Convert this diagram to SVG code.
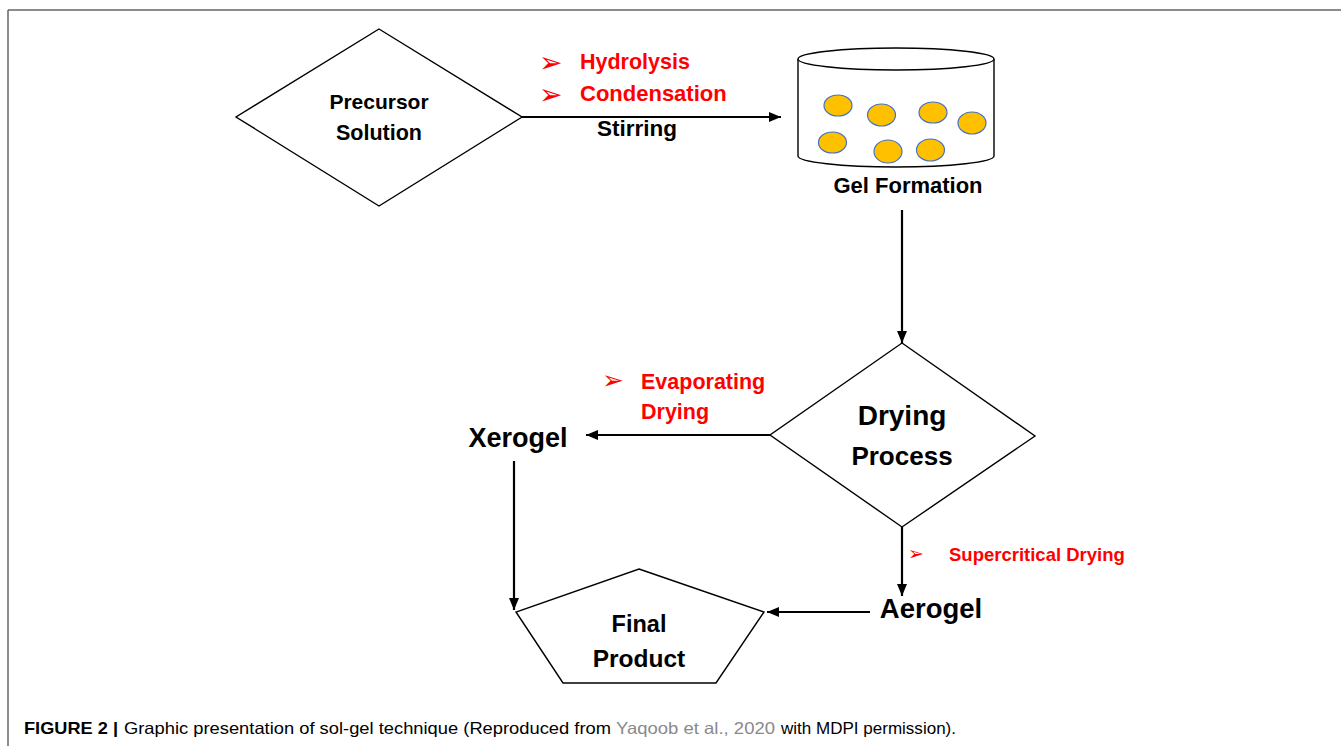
<svg xmlns="http://www.w3.org/2000/svg" width="1341" height="746" viewBox="0 0 1341 746">
<style>
.shape{fill:#fff;stroke:#000;stroke-width:1.4}
.lbl{font-family:"Liberation Sans",Arial,sans-serif;font-weight:bold;fill:#000;text-anchor:middle}
.red{font-family:"Liberation Sans",Arial,sans-serif;font-weight:bold;fill:#ff0000}
.bul{font-family:"DejaVu Sans",sans-serif;fill:#ff0000}
.conn{stroke:#000;stroke-width:2.2;fill:none}
.dot{fill:#ffc000;stroke:#4472c4;stroke-width:1.2}
.cap{font-family:"Liberation Sans",Arial,sans-serif;font-size:16.5px;fill:#000}
</style>
<defs>
<marker id="ah" markerWidth="14" markerHeight="12" refX="12" refY="6" orient="auto" markerUnits="userSpaceOnUse">
<path d="M0,1 L12,6 L0,11 Z" fill="#000"/>
</marker>
</defs>
<rect width="1341" height="746" fill="#fff"/>
<g id="frame" stroke="#666" stroke-width="1.5" fill="none">
<line x1="8" y1="10" x2="1341" y2="10"/>
<line x1="8" y1="10" x2="8" y2="746"/>
</g>

<g id="precursor">
<polygon class="shape" points="379,29 522,117 379,206 236,117"/>
<text class="lbl" x="379" y="109" font-size="21">Precursor</text>
<text class="lbl" x="379" y="140" font-size="21.5">Solution</text>
</g>

<g id="gel">
<path class="shape" d="M798,59 L798,156 A98,11 0 0 0 994,156 L994,59"/>
<ellipse class="shape" cx="896" cy="59" rx="98" ry="11"/>
<ellipse class="dot" cx="838" cy="105.5" rx="14" ry="10.5"/>
<ellipse class="dot" cx="881.5" cy="115" rx="14" ry="11"/>
<ellipse class="dot" cx="933" cy="112.5" rx="14" ry="10.5"/>
<ellipse class="dot" cx="972" cy="123" rx="14" ry="11"/>
<ellipse class="dot" cx="832.5" cy="142.5" rx="14" ry="10.5"/>
<ellipse class="dot" cx="888" cy="151.5" rx="14" ry="11.5"/>
<ellipse class="dot" cx="930.5" cy="150" rx="14" ry="11"/>
<text class="lbl" x="908" y="193" font-size="22">Gel Formation</text>
</g>

<g id="drying">
<polygon class="shape" points="902,343 1035,436 902,527 770,435"/>
<text class="lbl" x="902" y="425" font-size="28">Drying</text>
<text class="lbl" x="902" y="465" font-size="26">Process</text>
</g>

<g id="xerogel">
<text class="lbl" x="518" y="447" font-size="27">Xerogel</text>
</g>

<g id="aerogel">
<text class="lbl" x="931" y="618" font-size="27.5">Aerogel</text>
</g>

<g id="final">
<polygon class="shape" points="639,569 764,612 716,683 563,683 516,612"/>
<text class="lbl" x="639" y="632" font-size="23.5">Final</text>
<text class="lbl" x="639" y="667" font-size="24.5">Product</text>
</g>

<g id="labels">
<text class="bul" x="539" y="72" font-size="28">➢</text>
<text class="red" x="580" y="69" font-size="21.5">Hydrolysis</text>
<text class="bul" x="539" y="104" font-size="28">➢</text>
<text class="red" x="580" y="101" font-size="22">Condensation</text>
<text class="lbl" x="637" y="136" font-size="22.5">Stirring</text>
<text class="bul" x="602" y="389" font-size="26">➢</text>
<text class="red" x="641" y="389" font-size="21.5">Evaporating</text>
<text class="red" x="641" y="419" font-size="21.5">Drying</text>
<text class="bul" x="908" y="560" font-size="19">➢</text>
<text class="red" x="949" y="561" font-size="18.5">Supercritical Drying</text>
</g>

<g id="connectors">
<line class="conn" x1="522" y1="117" x2="781" y2="117" marker-end="url(#ah)"/>
<line class="conn" x1="902" y1="210" x2="902" y2="343" marker-end="url(#ah)"/>
<line class="conn" x1="770" y1="435" x2="586" y2="435" marker-end="url(#ah)"/>
<line class="conn" x1="902" y1="527" x2="902" y2="596" marker-end="url(#ah)"/>
<line class="conn" x1="870" y1="612" x2="767" y2="612" marker-end="url(#ah)"/>
<line class="conn" x1="514" y1="461" x2="514" y2="610" stroke-width="1.8" marker-end="url(#ah)"/>
</g>

<g id="caption">
<text class="cap" x="24" y="734" font-weight="bold" textLength="94" lengthAdjust="spacingAndGlyphs">FIGURE 2 |</text>
<text class="cap" x="124" y="734" textLength="487" lengthAdjust="spacingAndGlyphs">Graphic presentation of sol-gel technique (Reproduced from</text>
<text class="cap" x="616" y="734" style="fill:#8a8a8a" textLength="159" lengthAdjust="spacingAndGlyphs">Yaqoob et al., 2020</text>
<text class="cap" x="781" y="734" textLength="175" lengthAdjust="spacingAndGlyphs">with MDPI permission).</text>
</g>
</svg>
